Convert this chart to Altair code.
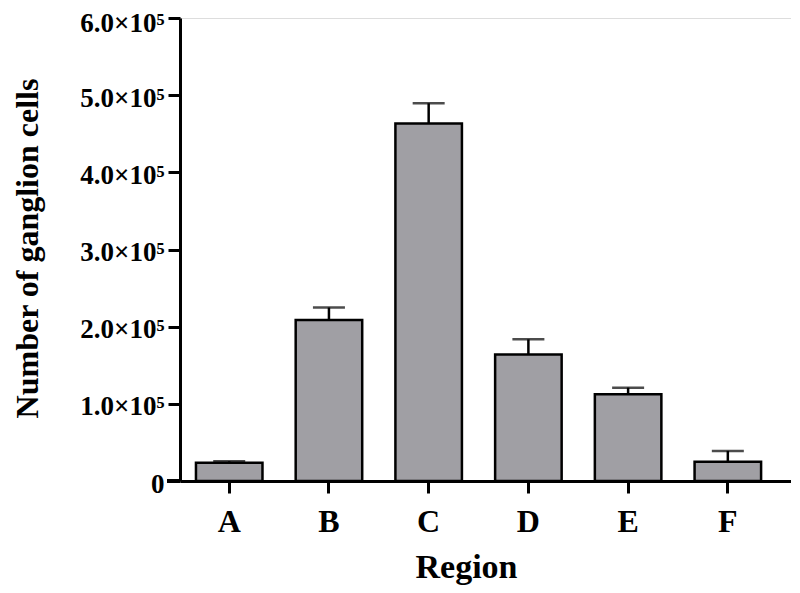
import altair as alt
import pandas as pd

regions = ["A", "B", "C", "D", "E", "F"]
means = [23500, 208500, 463300, 163800, 112400, 24800]
errors = [2000, 16300, 26200, 19800, 8600, 14200]
y_ticks = [0, 100000, 200000, 300000, 400000, 500000, 600000]

df = pd.DataFrame({"Region": regions, "mean": means, "err": errors})
df["upper"] = df["mean"] + df["err"]

FONT = "Liberation Serif"
W, H = 611, 463

xscale = alt.Scale(paddingInner=0.333, paddingOuter=0.23, align=0.348)
yscale = alt.Scale(domain=[0, 600000], nice=False)

x_enc = alt.X("Region:N", scale=xscale, sort=regions,
              axis=alt.Axis(title="Region", labelAngle=0, labelFont=FONT, labelFontSize=32,
                            labelFontWeight="bold", labelColor="black",
                            labelBaseline="alphabetic", labelPadding=38,
                            tickSize=12, tickWidth=3, tickColor="black",
                            domainWidth=3, domainColor="black",
                            titleFont=FONT, titleFontSize=34, titleFontWeight="bold",
                            titleColor="black", titleBaseline="alphabetic",
                            titleX=286, titleY=96))

bars = alt.Chart(df).mark_bar(color="#a09fa4", stroke="black", strokeWidth=2.5).encode(
    x=x_enc,
    y=alt.Y("mean:Q", scale=yscale,
            axis=alt.Axis(title="Number of ganglion cells", values=y_ticks,
                          labelExpr="datum.value == 0 ? '0' : format(datum.value/100000, '.1f') + '×10⁵'",
                          labelFont=FONT, labelFontSize=27, labelFontWeight="bold",
                          labelColor="black", labelPadding=4,
                          labelOffset={"condition": {"test": "datum.value == 600000", "value": 5}, "value": 3},
                          tickSize=12, tickWidth=3, tickColor="black",
                          domainWidth=3, domainColor="black", grid=False,
                          titleFont=FONT, titleFontSize=32, titleFontWeight="bold",
                          titleColor="black", titleBaseline="alphabetic",
                          titleX=-143, titleY=230)),
)

stems = alt.Chart(df).mark_rule(color="black", strokeWidth=2.5).encode(
    x=alt.X("Region:N", scale=xscale, sort=regions),
    y=alt.Y("mean:Q", scale=yscale),
    y2="upper:Q",
)

caps = alt.Chart(df).mark_tick(color="black", thickness=2.5, size=32, orient="horizontal").encode(
    x=alt.X("Region:N", scale=xscale, sort=regions),
    y=alt.Y("upper:Q", scale=yscale),
)

ext = alt.Chart(df).mark_rule(color="black", strokeWidth=3).encode(
    x=alt.value(-13), x2=alt.value(0), y=alt.value(H)
)

chart = alt.layer(bars, stems, caps, ext).properties(
    width=W, height=H,
    autosize=alt.AutoSizeParams(type="none"),
    padding={"left": 172, "top": 10, "right": 0, "bottom": 104},
).configure_view(stroke="transparent", strokeWidth=0).configure(background="white")

chart.save("out.html", embed_options={"renderer": "svg", "actions": False})
